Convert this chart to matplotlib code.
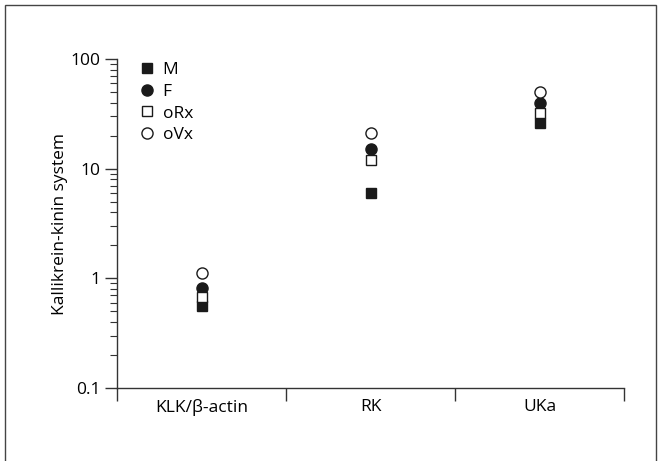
import matplotlib.pyplot as plt
import numpy as np
from matplotlib.patches import Rectangle

plt.rcParams['font.family'] = ['Open Sans', 'DejaVu Sans']

categories = ["KLK/\u03b2-actin", "RK", "UKa"]
M_vals = [0.56, 6.0, 26]
F_vals = [0.82, 15.1, 40]
oRx_vals = [0.68, 12.1, 32.5]
oVx_vals = [1.13, 21, 50]

W, H = 661, 461
fig = plt.figure(figsize=(W / 100, H / 100), dpi=100)
ax = fig.add_axes([117 / W, (H - 388) / H, (624 - 117) / W, (388 - 59) / H])

x = np.arange(len(categories))
ax.plot(x, M_vals, ls="none", marker="s", ms=7.5, mfc="#1a1a1a", mec="#1a1a1a", label="M")
ax.plot(x, F_vals, ls="none", marker="o", ms=8, mfc="#1a1a1a", mec="#1a1a1a", label="F")
ax.plot(x, oRx_vals, ls="none", marker="s", ms=7.5, mfc="white", mec="#1a1a1a", mew=1, label="oRx")
ax.plot(x, oVx_vals, ls="none", marker="o", ms=8, mfc="white", mec="#1a1a1a", mew=1, label="oVx")

fs = 12.5
ax.set_yscale("log")
ax.set_ylim(0.1, 100)
ax.set_xlim(-0.5, 2.5)
ax.set_yticks([0.1, 1, 10, 100])
ax.set_yticklabels(["0.1", "1", "10", "100"])
ax.set_xticks([-0.5, 0.5, 1.5, 2.5])
ax.set_xticklabels([])
ax.set_xticks(x, minor=True)
ax.set_xticklabels(categories, minor=True, fontsize=fs)
ax.tick_params(axis="x", which="minor", length=0, pad=8)
ax.tick_params(axis="x", which="major", length=9, width=1, color="#333333")
ax.tick_params(axis="y", which="major", length=9, width=1, labelsize=fs, color="#333333", pad=3)
ax.tick_params(axis="y", which="minor", length=5, width=0.8, color="#333333")
ax.set_ylabel("Kallikrein-kinin system", fontsize=fs, labelpad=1.5)

for s in ["top", "right"]:
    ax.spines[s].set_visible(False)
for s in ["left", "bottom"]:
    ax.spines[s].set_color("#333333")
    ax.spines[s].set_linewidth(1)

ax.legend(loc="upper left", bbox_to_anchor=(0.025, 1.012), frameon=False, fontsize=fs,
          handletextpad=0.3, labelspacing=0.32, handlelength=1.2, borderaxespad=0.0)

fig.patches.append(Rectangle((5 / W, -0.01), (656 - 5) / W, (H - 5) / H + 0.01,
                             transform=fig.transFigure, fill=False, ec="#444444", lw=1))

plt.savefig("out.png", dpi=100)
plt.close()
